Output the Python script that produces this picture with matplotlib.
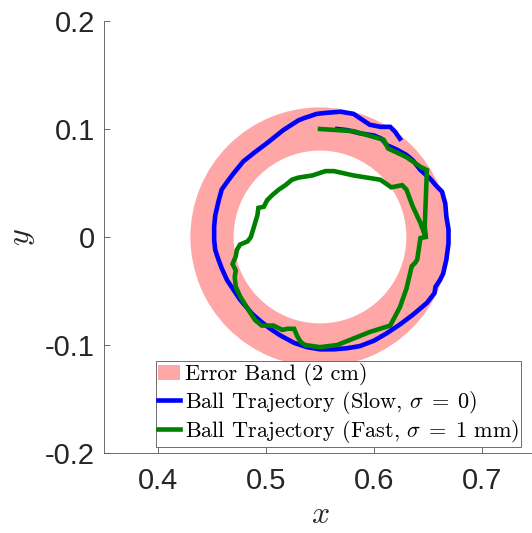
import matplotlib
matplotlib.use("Agg")
import matplotlib.pyplot as plt
from matplotlib.patches import Wedge

plt.rcParams['mathtext.fontset'] = 'cm'

# error band: ring around the nominal circle
band_center = (0.55, 0.0)
band_radius = 0.10
band_halfwidth = 0.02

# slow run (sigma = 0)
slow_x = [0.624, 0.6195, 0.615, 0.606, 0.596, 0.590, 0.581, 0.569, 0.556, 0.547,
          0.535, 0.530, 0.516, 0.501, 0.489, 0.479, 0.470, 0.464, 0.459, 0.456,
          0.453, 0.452, 0.452, 0.453, 0.456, 0.459, 0.464, 0.470, 0.476, 0.487,
          0.495, 0.504, 0.513, 0.526, 0.538, 0.550, 0.563, 0.575, 0.587, 0.600,
          0.612, 0.624, 0.636, 0.649, 0.656, 0.657, 0.661, 0.664, 0.667, 0.669,
          0.669, 0.667, 0.666, 0.663, 0.658, 0.652, 0.643, 0.636, 0.630, 0.621,
          0.612, 0.607, 0.600, 0.587, 0.575, 0.566]
slow_y = [0.091, 0.0975, 0.102, 0.102, 0.104, 0.108, 0.114, 0.116, 0.115, 0.114,
          0.110, 0.108, 0.099, 0.087, 0.078, 0.070, 0.059, 0.051, 0.044, 0.033,
          0.020, 0.010, -0.003, -0.012, -0.021, -0.029, -0.040, -0.049, -0.058, -0.071,
          -0.078, -0.085, -0.091, -0.098, -0.102, -0.104, -0.104, -0.103, -0.101, -0.096,
          -0.089, -0.081, -0.072, -0.061, -0.052, -0.046, -0.040, -0.034, -0.021, -0.006,
          0.007, 0.019, 0.031, 0.042, 0.047, 0.054, 0.062, 0.071, 0.076, 0.081,
          0.085, 0.091, 0.094, 0.096, 0.099, 0.100]

# fast run (sigma = 1 mm)
fast_x = [0.550, 0.581, 0.609, 0.613, 0.630, 0.643, 0.649, 0.647, 0.648, 0.643,
          0.640, 0.638, 0.635, 0.630, 0.624, 0.615, 0.596, 0.581, 0.566, 0.550,
          0.536, 0.532, 0.529, 0.526, 0.520, 0.515, 0.507, 0.496, 0.490, 0.486,
          0.481, 0.476, 0.472, 0.471, 0.472, 0.469, 0.472, 0.473, 0.476, 0.483,
          0.486, 0.489, 0.492, 0.493, 0.498, 0.501, 0.506, 0.512, 0.518, 0.524,
          0.530, 0.543, 0.555, 0.563, 0.581, 0.606, 0.616, 0.626, 0.630, 0.636,
          0.643, 0.647]
fast_y = [0.100, 0.098, 0.090, 0.082, 0.074, 0.065, 0.062, 0.010, 0.000, -0.001,
          -0.021, -0.024, -0.027, -0.048, -0.065, -0.082, -0.088, -0.094, -0.100, -0.102,
          -0.100, -0.097, -0.092, -0.085, -0.085, -0.086, -0.082, -0.082, -0.077, -0.071,
          -0.063, -0.055, -0.046, -0.037, -0.031, -0.025, -0.018, -0.012, -0.007, -0.004,
          0.000, 0.010, 0.020, 0.027, 0.028, 0.034, 0.039, 0.044, 0.048, 0.053,
          0.055, 0.057, 0.061, 0.061, 0.057, 0.053, 0.046, 0.048, 0.044, 0.028,
          0.013, 0.002]

xticks = [0.4, 0.5, 0.6, 0.7]
yticks = [-0.2, -0.1, 0, 0.1, 0.2]
ytick_labels = ['-0.2', '-0.1', '0', '0.1', '0.2']

fig = plt.figure(figsize=(5.32, 5.33), dpi=100)
ax = fig.add_axes([0.1955, 0.1501, 0.812, 0.8105])

band = Wedge(band_center, band_radius + band_halfwidth, 0, 360,
             width=2 * band_halfwidth, facecolor=(1.0, 0.65, 0.65),
             edgecolor='none', label='Error Band (2 cm)')
ax.add_patch(band)
ax.plot(slow_x, slow_y, color='blue', lw=3.3, solid_joinstyle='miter',
        label=r'Ball Trajectory (Slow, $\sigma\;=\;0$)')
ax.plot(fast_x, fast_y, color='green', lw=3.3, solid_joinstyle='miter',
        label=r'Ball Trajectory (Fast, $\sigma\;=\;1$ mm)')

ax.set_xlim(0.35, 0.75)
ax.set_ylim(-0.2, 0.2)
ax.set_xticks(xticks)
ax.set_xticklabels([str(t) for t in xticks])
ax.set_yticks(yticks)
ax.set_yticklabels(ytick_labels)

axis_grey = '#262626'
for side in ['top', 'right']:
    ax.spines[side].set_visible(False)
for side in ['left', 'bottom']:
    ax.spines[side].set_color('#555555')
    ax.spines[side].set_linewidth(0.6)
ax.tick_params(direction='in', length=4, width=0.6, color='#555555',
               labelcolor=axis_grey, labelsize=21)
ax.tick_params(axis='x', pad=10)
ax.tick_params(axis='y', pad=6.5)
for lbl in ax.get_xticklabels() + ax.get_yticklabels():
    lbl.set_family('Liberation Sans')

ax.set_xlabel('$x$', fontsize=23, color=axis_grey, labelpad=3)
ax.set_ylabel('$y$', fontsize=23, color=axis_grey, labelpad=6)

leg = ax.legend(loc='lower left', bbox_to_anchor=(0.120, 0.014),
                borderaxespad=0, prop={'family': 'cmr10', 'size': 16},
                handlelength=1.0, handletextpad=0.2, labelspacing=0.1,
                borderpad=0.1, fancybox=False, framealpha=1)
leg.get_frame().set_edgecolor('#555555')
leg.get_frame().set_linewidth(0.6)

fig.savefig('out.png', dpi=100)
